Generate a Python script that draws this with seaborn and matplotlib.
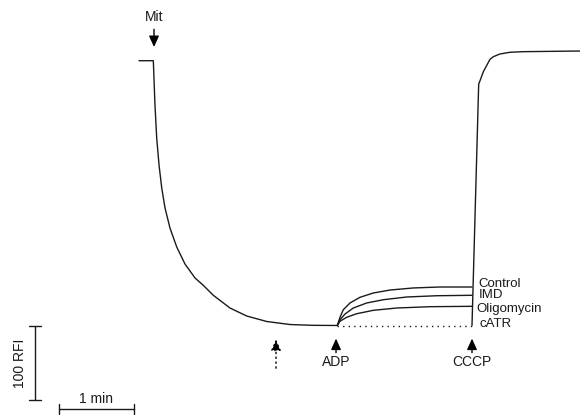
import matplotlib
matplotlib.use("Agg")
import matplotlib.pyplot as plt
import seaborn as sns

# ---- data (time in min, fluorescence in RFI) ----
mit_t = [0.00, 0.191, 0.203, 0.213, 0.236, 0.267, 0.303, 0.347, 0.413, 0.503, 0.613,
         0.747, 0.857, 0.991, 1.213, 1.436, 1.703, 2.013, 2.32, 2.644]
mit_f = [458.5, 458.5, 425.7, 398.6, 354.1, 317.6, 286.5, 259.5, 232.4, 206.8, 183.8,
         164.9, 155.0, 141.5, 124.3, 113.5, 106.1, 102.0, 100.9, 100.7]

control_t = [2.644, 2.68, 2.724, 2.813, 2.947, 3.124, 3.347, 3.657, 4.013, 4.44]
control_f = [100.7, 111.8, 122.0, 131.1, 138.8, 144.6, 148.6, 151.4, 152.7, 152.7]

imd_t = [2.644, 2.68, 2.747, 2.857, 3.036, 3.257, 3.569, 3.969, 4.44]
imd_f = [100.7, 108.5, 116.2, 124.3, 131.1, 135.5, 139.2, 140.9, 141.5]

oligo_t = [2.644, 2.68, 2.769, 2.903, 3.124, 3.436, 3.88, 4.44]
oligo_f = [100.7, 106.4, 111.8, 116.6, 121.2, 124.3, 126.1, 126.6]

catr_t = [2.644, 4.44]
catr_f = [100.5, 100.5]

cccp_t = [4.44, 4.529, 4.591, 4.68, 4.724, 4.813, 4.947, 5.124, 5.88]
cccp_f = [100.7, 426.6, 443.6, 460.4, 463.9, 467.6, 469.9, 470.7, 471.6]

branch_names = ["Control", "IMD", "Oligomycin", "cATR"]
label_t = [4.524, 4.524, 4.503, 4.537]
label_f = [156.4, 141.9, 123.0, 102.3]

events = ["Mit", "ADP", "CCCP"]
event_t = [0.2, 2.627, 4.44]

sns.set_theme(style="white")
plt.rcParams['font.family'] = ['Liberation Sans', 'DejaVu Sans']

fig = plt.figure(figsize=(5.8, 4.15), dpi=100)
ax = fig.add_axes([0, 0, 1, 1])
col = "#1a1a1a"
lw = 1.0

def trace(t, f, **kw):
    sns.lineplot(x=t, y=f, ax=ax, color=col, sort=False, estimator=None, **kw)

trace(mit_t, mit_f, lw=lw)
trace(control_t, control_f, lw=lw)
trace(imd_t, imd_f, lw=lw)
trace(oligo_t, oligo_f, lw=lw)
trace(catr_t, catr_f, lw=1.0, ls=(0, (1, 3)))
trace(cccp_t, cccp_f, lw=lw)

for name, x, y in zip(branch_names, label_t, label_f):
    ax.text(x, y, name, fontsize=9.5, ha="left", va="center", color=col)

ap = dict(arrowstyle="-|>,head_length=0.55,head_width=0.25", color="black", lw=1.0,
          shrinkA=0, shrinkB=0)
ax.annotate("", xy=(event_t[0], 477), xytext=(event_t[0], 501), arrowprops=ap)
ax.text(event_t[0], 517, events[0], fontsize=10, ha="center", va="center", color=col)
for name, t in zip(events[1:], event_t[1:]):
    ax.annotate("", xy=(t, 83), xytext=(t, 64), arrowprops=ap)
    ax.text(t, 51, name, fontsize=10, ha="center", va="center", color=col)

apd = dict(arrowstyle="-|>,head_length=0.55,head_width=0.25", color="black", lw=1.0,
           ls=(0, (1, 2.5)), shrinkA=0, shrinkB=0)
ax.annotate("", xy=(1.827, 82), xytext=(1.827, 43), arrowprops=apd)

# scale bars
sx = -1.387
ax.plot([sx, sx], [0, 100], color=col, lw=1.0)
ax.plot([sx - 0.08, sx + 0.08], [0, 0], color=col, lw=1.0)
ax.plot([sx - 0.08, sx + 0.08], [100, 100], color=col, lw=1.0)
ax.text(-1.587, 50, "100 RFI", rotation=90, fontsize=10, ha="center", va="center", color=col)

hy = -12.2
ax.plot([-1.067, -0.067], [hy, hy], color=col, lw=1.0)
ax.plot([-1.067, -1.067], [hy - 7, hy + 7], color=col, lw=1.0)
ax.plot([-0.067, -0.067], [hy - 7, hy + 7], color=col, lw=1.0)
ax.text(-0.573, 1.5, "1 min", fontsize=10, ha="center", va="center", color=col)

ax.set_xlim(-139 / 75, 441 / 75)
ax.set_ylim(-15 / 0.74, 400 / 0.74)
ax.axis("off")
fig.savefig("out.png", dpi=100, facecolor="white")
